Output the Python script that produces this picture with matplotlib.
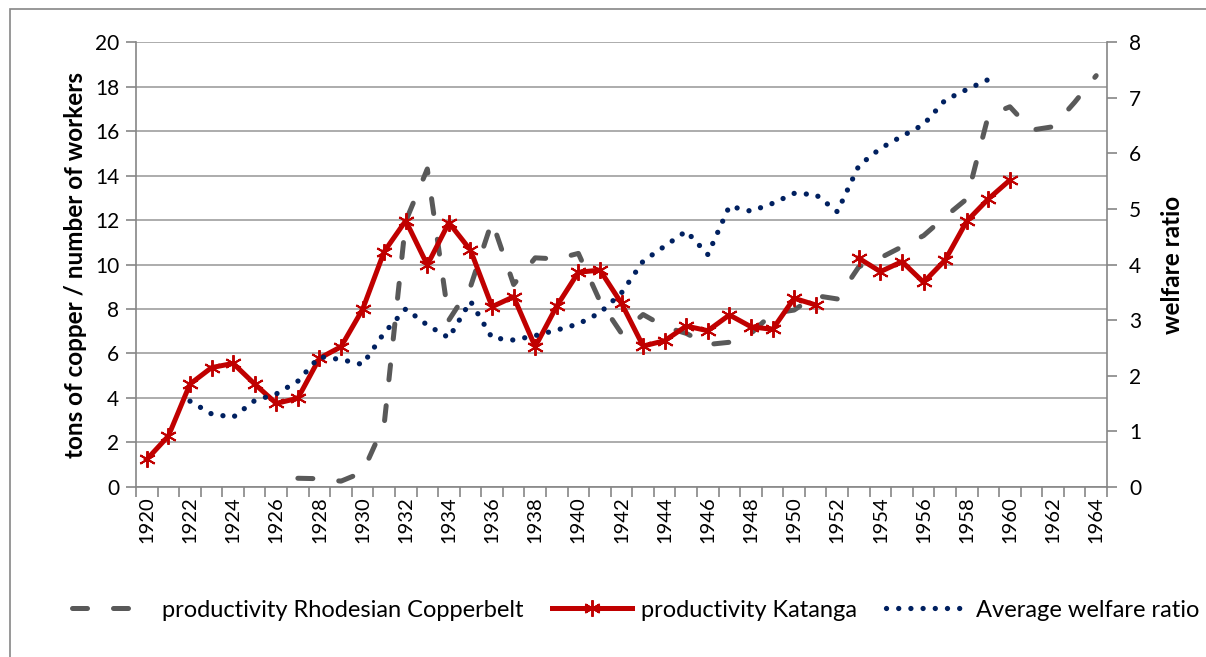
import numpy as np
import matplotlib
matplotlib.use("Agg")
import matplotlib.pyplot as plt
from matplotlib.patches import Rectangle

plt.rcParams['font.family'] = ['Lato', 'DejaVu Sans']

nan = np.nan
years = list(range(1920, 1965))
label_years = list(range(1920, 1965, 2))

# tons of copper per worker, Rhodesian Copperbelt (1927-1964)
copperbelt_years = list(range(1927, 1965))
copperbelt = [0.38, 0.36, 0.25, 0.65, 2.8, 11.95, 14.3, 7.5, 9.0, 11.95,
              9.1, 10.3, 10.25, 10.5, 8.35, 6.9, 7.75, 7.2, 6.9, 6.4,
              6.5, 6.9, 7.8, 7.95, 8.6, 8.45, 9.9, 10.3, 10.8, 11.3,
              12.15, 12.95, 16.7, 17.1, 16.05, 16.2, 17.3, 18.5]

# tons of copper per worker, Katanga (1920-1960), 1952 missing
katanga_years = list(range(1920, 1961))
katanga = [1.23, 2.28, 4.62, 5.36, 5.55, 4.62, 3.75, 3.98, 5.78, 6.3,
           7.98, 10.58, 11.97, 9.98, 11.88, 10.65, 8.1, 8.55, 6.3, 8.13,
           9.65, 9.75, 8.25, 6.33, 6.57, 7.23, 7.02, 7.73, 7.2, 7.08,
           8.48, 8.18, nan, 10.28, 9.68, 10.13, 9.2, 10.2, 11.95, 12.95,
           13.8]

# average welfare ratio (1922-1959), right axis
welfare_years = list(range(1922, 1960))
welfare = [1.54, 1.31, 1.25, 1.55, 1.67, 1.9, 2.34, 2.29, 2.2, 2.77,
           3.2, 2.91, 2.68, 3.34, 2.68, 2.64, 2.72, 2.82, 2.93, 3.13,
           3.49, 4.06, 4.33, 4.6, 4.18, 5.05, 4.96, 5.1, 5.28, 5.26,
           4.95, 5.78, 6.09, 6.31, 6.52, 6.96, 7.15, 7.33]

grey_ax = '#868686'

fig = plt.figure(figsize=(12.06, 6.57), dpi=100)
ax = fig.add_axes([0.1128, 0.2592, 0.8051, 0.6764])
ax2 = ax.twinx()

ax.set_xlim(1919.5, 1964.5)
ax.set_ylim(0, 20)
ax2.set_ylim(0, 8)

ax.set_yticks(np.arange(0, 21, 2))
ax2.set_yticks(np.arange(0, 9, 1))
ax.yaxis.grid(True, color='#a6a6a6', lw=1.3)
ax.set_axisbelow(True)

# category boundaries as major ticks, labels every 2nd year as minor
ax.set_xticks(np.arange(1919.5, 1965, 1))
ax.set_xticklabels([])
ax.set_xticks(label_years, minor=True)
ax.set_xticklabels([str(y) for y in label_years], minor=True, rotation=90)
ax.tick_params(axis='x', which='major', length=7, color=grey_ax, width=1.2)
ax.tick_params(axis='x', which='minor', length=0, pad=7, labelsize=14.5)
ax.tick_params(axis='y', length=7, color=grey_ax, width=1.2, labelsize=15,
               pad=5)
ax2.tick_params(axis='y', length=7, color=grey_ax, width=1.2, labelsize=15,
                pad=9)

for a in (ax, ax2):
    for s in a.spines.values():
        s.set_visible(False)
ax.spines['left'].set_visible(True)
ax.spines['left'].set_color(grey_ax)
ax.spines['left'].set_linewidth(1.2)
ax.spines['bottom'].set_visible(True)
ax.spines['bottom'].set_color(grey_ax)
ax.spines['bottom'].set_linewidth(1.2)
ax2.spines['right'].set_visible(True)
ax2.spines['right'].set_color(grey_ax)
ax2.spines['right'].set_linewidth(1.2)

l1, = ax.plot(copperbelt_years, copperbelt, color='#595959', lw=3.6,
              linestyle=(0, (3, 5.2)), dash_capstyle='round',
              label='productivity Rhodesian Copperbelt')
l2, = ax.plot(katanga_years, katanga, color='#c00000', lw=3.6,
              marker=(6, 2, 0), markersize=12, markeredgewidth=1.4,
              markeredgecolor='#c00000', label='productivity Katanga')
l3, = ax2.plot(welfare_years, welfare, color='#002060', lw=3.8,
               linestyle=(0, (0.01, 2.3)), dash_capstyle='round',
               label='Average welfare ratio')

ax.set_ylabel('tons of copper / number of workers', fontsize=17.5,
              fontweight='bold', labelpad=6)
ax2.set_ylabel('welfare ratio', fontsize=17.5, fontweight='bold',
               labelpad=14)

fig.legend(handles=[l1, l2, l3], loc='center',
           bbox_to_anchor=(0.527, 0.0715), ncol=3, frameon=False,
           fontsize=17, handlelength=3.4, handletextpad=0.4,
           columnspacing=1.2)

# chart area border
fig.add_artist(Rectangle((10 / 1206, -0.05), 1.2, 1.05 - 9 / 657,
                         transform=fig.transFigure, fill=False,
                         edgecolor=grey_ax, lw=1.2))

fig.savefig('out.png', dpi=100)
